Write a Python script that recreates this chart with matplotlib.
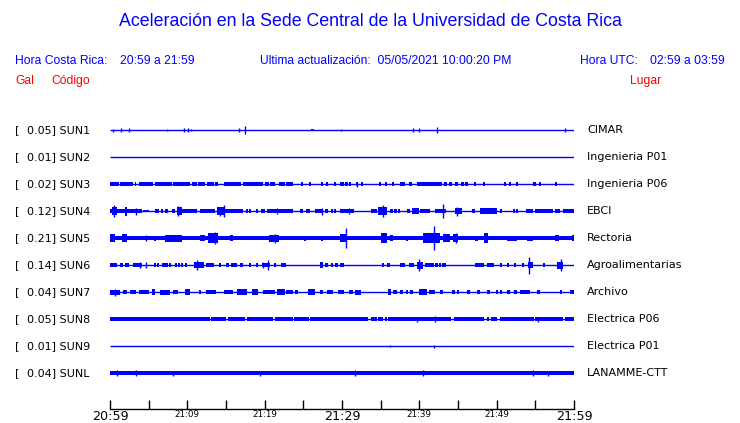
import matplotlib.pyplot as plt
import numpy as np

# Estaciones
codigos = ['SUN1', 'SUN2', 'SUN3', 'SUN4', 'SUN5', 'SUN6', 'SUN7', 'SUN8', 'SUN9', 'SUNL']
gal = [0.05, 0.01, 0.02, 0.12, 0.21, 0.14, 0.04, 0.05, 0.01, 0.04]
lugares = ['CIMAR', 'Ingenieria P01', 'Ingenieria P06', 'EBCI', 'Rectoria',
           'Agroalimentarias', 'Archivo', 'Electrica P06', 'Electrica P01', 'LANAMME-CTT']

# eje de tiempo (minutos desde 20:59)
horas = ['20:59', '21:09', '21:19', '21:29', '21:39', '21:49', '21:59']

# tramos de senal: (inicio, fin, amplitud)
rafagas = {
    'SUN3': [(0, 1.1, 1.7), (1.3, 3.0, 1.7), (3.2, 3.4, 1.7), (3.7, 5.6, 1.7), (5.8, 8.0, 1.7),
             (8.2, 10.3, 1.7), (10.6, 11.2, 1.7), (11.4, 12.3, 1.7), (12.5, 13.4, 1.7),
             (13.6, 14.0, 1.7), (14.7, 17.0, 1.7), (17.2, 19.8, 1.7), (20.0, 20.5, 1.7),
             (20.7, 21.3, 1.7), (21.8, 22.6, 1.7), (22.8, 23.7, 1.7), (29.7, 30.3, 1.7),
             (35.6, 35.8, 1.7), (37.5, 38.1, 1.7), (38.6, 39.0, 1.7), (39.7, 42.9, 1.7),
             (43.9, 44.2, 1.7)],
    'SUN4': [(0, 1.1, 2), (0.2, 0.9, 4), (1.9, 2.2, 4.5), (1.1, 4.1, 2), (4.3, 5.0, 1),
             (5.8, 6.3, 2), (7.1, 7.5, 2), (8.0, 8.4, 2), (8.6, 9.3, 4), (9.3, 11.2, 2),
             (11.6, 13.6, 2), (13.8, 14.7, 4), (14.7, 17.2, 2), (19.5, 20.0, 2), (20.3, 23.7, 2),
             (24.6, 25.0, 2), (25.4, 25.9, 2), (26.5, 27.6, 2), (29.7, 31.5, 2), (33.8, 34.5, 2),
             (34.7, 35.8, 4), (38.4, 38.8, 2), (39.0, 39.9, 3), (40.1, 41.4, 2), (42.0, 43.5, 2),
             (44.6, 45.5, 3), (46.8, 47.2, 2), (47.8, 50.0, 3), (53.8, 54.7, 2), (55.0, 57.3, 2),
             (57.5, 58.2, 2), (58.6, 60.0, 2)],
    'SUN5': [(0, 60, 2), (0, 0.65, 4), (1.5, 2.2, 4), (7.1, 9.3, 3.5), (11.6, 12.3, 3),
             (12.7, 14.0, 5), (15.5, 15.9, 3), (20.5, 21.8, 3.5), (29.7, 30.6, 4), (35.1, 35.8, 5),
             (36.2, 36.6, 3), (40.5, 42.7, 5), (43.1, 44.0, 4), (44.3, 45.0, 4), (48.3, 48.9, 5),
             (51.3, 52.6, 2.5), (53.9, 54.7, 2.5), (57.5, 58.0, 3), (59.8, 60.0, 3)],
    'SUN6': [(0, 0.9, 2), (1.3, 1.7, 2), (2.0, 2.5, 2), (3.0, 4.1, 2), (10.8, 12.1, 3),
             (12.4, 13.4, 2), (15.7, 16.4, 2), (19.6, 20.7, 2), (22.1, 22.8, 2), (27.2, 27.6, 3),
             (29.7, 30.3, 2), (35.8, 36.2, 2), (37.5, 38.1, 2), (39.7, 40.5, 3.5), (40.7, 41.6, 2),
             (42.9, 43.5, 2), (47.2, 48.3, 2), (48.7, 49.6, 2), (54.1, 54.7, 3), (57.8, 58.6, 3.5)],
    'SUN7': [(0, 1.3, 2.5), (1.7, 2.2, 2), (2.6, 3.4, 2), (3.7, 5.0, 2), (5.4, 5.8, 3),
             (6.5, 7.8, 2.5), (8.2, 8.8, 2), (9.7, 10.3, 3), (12.4, 13.7, 2), (14.7, 15.9, 2),
             (16.4, 17.7, 3), (18.3, 19.1, 3), (19.8, 21.3, 2), (21.6, 22.6, 3), (22.8, 23.7, 2),
             (25.6, 26.5, 3), (27.2, 27.6, 2), (28.0, 28.9, 2), (29.5, 30.3, 2), (30.9, 31.4, 2),
             (31.7, 32.4, 2.5), (36.0, 36.4, 3), (36.6, 37.1, 2), (39.9, 41.0, 3), (41.2, 42.0, 2),
             (42.7, 43.1, 2), (44.2, 44.6, 2), (46.1, 46.6, 2), (47.4, 47.8, 2), (48.7, 49.1, 2),
             (51.3, 51.7, 2), (52.2, 52.6, 2), (53.0, 54.3, 2), (58.2, 58.5, 2), (59.5, 60.0, 2)],
    'SUN8': [(0, 12.9, 1.8), (13.1, 15.0, 1.8), (15.2, 17.5, 1.8), (17.7, 21.1, 1.8),
             (21.3, 23.7, 1.8), (23.8, 25.7, 1.8), (25.9, 28.8, 1.8), (28.9, 33.4, 1.8),
             (33.8, 34.5, 1.8), (34.7, 35.3, 1.8), (35.6, 35.8, 1.8), (36.0, 44.1, 1.8),
             (44.5, 48.4, 1.8), (48.8, 49.0, 1.8), (49.3, 50.1, 1.8), (50.4, 54.8, 1.8),
             (55.0, 58.6, 1.8), (58.8, 60.0, 1.8)],
    'SUNL': [(0, 60, 1.8)],
}

# pulsos cortos: (tiempo, amplitud)
pulsos = {
    'SUN1': [(26.2, 1.2)],
    'SUN3': [(24.8, 1.7), (25.9, 1.7), (27.4, 1.7), (28.1, 1.7), (29.1, 1.7), (30.6, 1.7),
             (31.0, 1.7), (31.9, 1.7), (32.6, 1.7), (34.9, 1.7), (36.6, 1.7), (43.4, 1.7),
             (44.8, 1.7), (45.6, 1.7), (46.1, 1.7), (47.2, 1.7), (48.4, 1.7), (51.1, 1.7),
             (51.7, 1.7), (52.6, 1.7), (54.9, 1.7), (55.6, 1.7), (57.7, 1.7)],
    'SUN4': [(6.7, 2), (17.7, 2), (18.1, 2), (19.0, 2), (28.0, 2), (28.7, 2), (29.1, 2),
             (36.4, 2), (36.9, 2), (37.4, 2), (50.6, 2), (52.2, 2), (52.6, 2)],
    'SUN5': [(5.8, 2.5), (25.2, 2.5), (27.4, 2.5), (38.4, 2.5), (47.4, 2.5)],
    'SUN6': [(5.8, 2), (6.25, 2), (6.9, 2), (7.3, 2), (7.8, 2), (8.5, 2), (8.9, 2), (9.3, 2),
             (9.8, 2), (14.2, 2), (15.2, 2), (17.0, 2), (18.1, 2), (19.0, 2), (21.3, 2),
             (28.0, 2), (28.7, 2), (29.3, 2), (35.3, 2), (38.8, 2), (39.1, 2), (41.8, 2),
             (42.2, 2), (42.7, 2), (50.6, 2), (51.5, 2), (52.4, 2), (53.4, 2), (56.1, 2)],
    'SUN7': [(11.6, 2), (24.1, 2), (37.7, 2), (38.4, 2), (39.0, 2), (45.0, 2), (50.0, 2),
             (50.6, 2), (55.4, 2)],
}

# picos aislados: (tiempo, amplitud)
picos = {
    'SUN1': [(0.4, 1.5), (1.4, 2), (2.4, 2), (7.4, 1.2), (9.6, 2), (10.1, 2), (10.5, 1.2),
             (16.7, 2), (17.5, 3.7), (29.9, 1.2), (39.2, 2), (40.0, 2), (42.3, 3.2), (58.9, 2)],
    'SUN3': [(31.9, 2.5)],
    'SUN4': [(0.5, 5.7), (3.4, 3.5), (8.8, 5), (14.2, 4.5), (14.7, 6), (21.6, 3), (27.4, 3.5),
             (30.9, 3), (35.3, 6), (43.1, 7), (44.9, 4.5)],
    'SUN5': [(4.7, 3), (13.6, 6), (21.3, 4.5), (30.5, 10), (41.9, 12), (44.8, 5)],
    'SUN6': [(3.9, 3), (4.7, 3), (11.2, 5.3), (19.8, 3), (20.4, 5), (40.0, 6), (54.2, 8.5),
             (58.3, 6)],
    'SUN7': [(0.7, 3.5)],
    'SUN8': [(39.7, 2.5), (42.0, 3.3), (55.4, 2.5)],
    'SUN9': [(36.2, 1.2), (41.9, 1.5)],
    'SUNL': [(0.95, 3), (3.4, 3), (8.2, 2.5), (19.4, 2.5), (31.7, 3), (40.5, 3.3), (54.7, 3),
             (56.7, 2.5)],
}

W, H = 740, 423
azul = '#0000ff'
rojo = '#ff0000'

fig = plt.figure(figsize=(W / 100, H / 100), dpi=100)


def fx(x, y):
    return x / W, 1 - y / H


# area de trazas
ax = fig.add_axes([110 / W, 14 / H, 464 / W, 294 / H])
ax.set_xlim(0, 60)
ax.set_ylim(10.333, -0.556)
esc = 1 / 27

for i, c in enumerate(codigos):
    ax.plot([0, 60], [i, i], color=azul, lw=1, solid_capstyle='butt')
    b = np.array(rafagas.get(c, []), dtype=float).reshape(-1, 3)
    if len(b):
        ax.bar(b[:, 0], 2 * b[:, 2] * esc, width=b[:, 1] - b[:, 0],
               bottom=i - b[:, 2] * esc, align='edge', color=azul, lw=0)
    q = np.array(pulsos.get(c, []), dtype=float).reshape(-1, 2)
    if len(q):
        ax.bar(q[:, 0], 2 * q[:, 1] * esc, width=0.3,
               bottom=i - q[:, 1] * esc, align='center', color=azul, lw=0)
    p = np.array(picos.get(c, []), dtype=float).reshape(-1, 2)
    if len(p):
        ax.vlines(p[:, 0], i - p[:, 1] * esc, i + p[:, 1] * esc, color=azul, lw=1)

    # etiquetas de cada estacion
    y = 130 + 27 * i
    fig.text(*fx(15, y), '[', fontsize=8, va='center', ha='left', family='DejaVu Sans')
    fig.text(*fx(27, y), f'{gal[i]:.2f}] {c}', fontsize=8, va='center', ha='left',
             family='DejaVu Sans')
    fig.text(*fx(587, y), lugares[i], fontsize=8, va='center', ha='left',
             family='DejaVu Sans')

for s in ['left', 'right', 'top']:
    ax.spines[s].set_visible(False)
ax.spines['bottom'].set_linewidth(1)
ax.set_yticks([])
ax.set_xticks(np.arange(0, 61, 10))
ax.set_xticklabels(horas)
ax.set_xticks(np.arange(5, 60, 10), minor=True)
ax.tick_params(which='both', direction='in', length=6.5, width=1, pad=0.5)
tamanos = [9.2, 6.3, 6.3, 9.2, 6.3, 6.3, 9.2]
for lbl, s in zip(ax.get_xticklabels(), tamanos):
    lbl.set_fontsize(s)

# encabezado
hf = 'Liberation Sans'
fig.text(0.5, 1 - 22 / H, 'Aceleración en la Sede Central de la Universidad de Costa Rica',
         fontsize=12.8, color=azul, ha='center', va='center', family=hf)
fig.text(*fx(15, 61), 'Hora Costa Rica:', fontsize=8.7, color=azul, va='center', family=hf)
fig.text(*fx(120, 61), '20:59 a 21:59', fontsize=8.7, color=azul, va='center', family=hf)
fig.text(*fx(260, 61), 'Ultima actualización:  05/05/2021 10:00:20 PM', fontsize=8.7,
         color=azul, va='center', family=hf)
fig.text(*fx(580, 61), 'Hora UTC:', fontsize=8.7, color=azul, va='center', family=hf)
fig.text(*fx(650, 61), '02:59 a 03:59', fontsize=8.7, color=azul, va='center', family=hf)
fig.text(*fx(15, 81), 'Gal', fontsize=8.7, color=rojo, va='center', family=hf)
fig.text(*fx(51, 81), 'Código', fontsize=8.7, color=rojo, va='center', family=hf)
fig.text(*fx(630, 81), 'Lugar', fontsize=8.7, color=rojo, va='center', family=hf)

fig.savefig('out.png', dpi=100)
